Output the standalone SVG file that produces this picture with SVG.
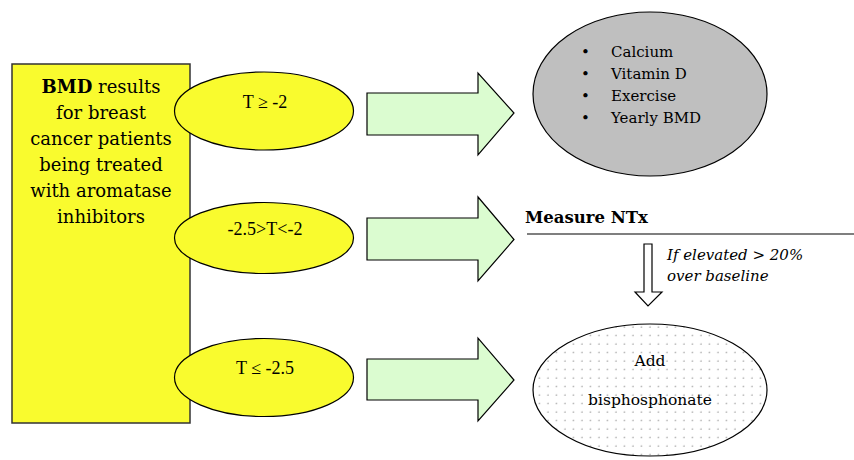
<svg xmlns="http://www.w3.org/2000/svg" width="854" height="460" viewBox="0 0 854 460">
<style>
.yl{fill:#f9fb2e;stroke:#000;stroke-width:1.2}
.arr{fill:#dbfcd0;stroke:#000;stroke-width:1.2}
.cam{font-family:"DejaVu Serif","Liberation Serif",serif;fill:#000}
.tms{font-family:"Liberation Serif","Times New Roman",serif;font-size:18px;fill:#000;text-anchor:middle}
</style>
<defs>
<pattern id="dots" x="0" y="0" width="8.5" height="8.5" patternUnits="userSpaceOnUse">
<circle cx="4" cy="4" r="0.8" fill="#a0a0a0"/>
</pattern>
</defs>
<rect width="854" height="460" fill="#fff"/>
<g id="bmd-box">
<rect x="12" y="64" width="178" height="359" fill="#f9fb2e" stroke="#333" stroke-width="1.5"/>
<text class="cam" font-size="18" text-anchor="middle"><tspan x="101" y="93"><tspan font-weight="bold">BMD</tspan> results</tspan><tspan x="101" y="119">for breast</tspan><tspan x="101" y="145">cancer patients</tspan><tspan x="101" y="171">being treated</tspan><tspan x="101" y="197">with aromatase</tspan><tspan x="101" y="223">inhibitors</tspan></text>
</g>
<g id="t1">
<ellipse class="yl" cx="264" cy="111" rx="89.5" ry="39"/>
<text class="tms" x="265" y="108">T ≥ -2</text>
</g>
<g id="t2">
<ellipse class="yl" cx="264" cy="238" rx="89.5" ry="35.5"/>
<text class="tms" x="265" y="235">-2.5&gt;T&lt;-2</text>
</g>
<g id="t3">
<ellipse class="yl" cx="264" cy="377.5" rx="89.5" ry="39"/>
<text class="tms" x="265" y="374">T ≤ -2.5</text>
</g>
<g id="connectors">
<path class="arr" d="M367,93 H478 V73 L514,113 L478,155 V135 H367 Z"/>
<path class="arr" d="M367,218 H478 V197 L514,239.5 L478,281 V260 H367 Z"/>
<path class="arr" d="M367,359 H478 V338 L514,380 L478,421 V400 H367 Z"/>
<path d="M644,244 H652 V292 H662 L648,306 L635,292 H644 Z" fill="#fff" stroke="#000" stroke-width="1.2"/>
</g>
<g id="lifestyle">
<ellipse cx="650" cy="94" rx="117" ry="82" fill="#bfbfbf" stroke="#000" stroke-width="1.2"/>
<g class="cam" font-size="15">
<text x="581" y="57">•</text><text x="611" y="57">Calcium</text>
<text x="581" y="79">•</text><text x="611" y="79">Vitamin D</text>
<text x="581" y="101">•</text><text x="611" y="101">Exercise</text>
<text x="581" y="123">•</text><text x="611" y="123">Yearly BMD</text>
</g>
</g>
<g id="measure-ntx">
<text class="cam" x="525" y="223" font-size="16.5" font-weight="bold">Measure NTx</text>
<line x1="527" y1="234" x2="854" y2="234" stroke="#000" stroke-width="1.2"/>
<text class="cam" font-size="15" font-style="italic"><tspan x="667" y="260">If elevated &gt; 20%</tspan><tspan x="667" y="281">over baseline</tspan></text>
</g>
<g id="bisphosphonate">
<ellipse cx="650" cy="390" rx="117" ry="66" fill="#fff" stroke="none"/>
<ellipse cx="650" cy="390" rx="117" ry="66" fill="url(#dots)" stroke="#000" stroke-width="1.2"/>
<text class="cam" font-size="15.5" text-anchor="middle"><tspan x="650" y="366">Add</tspan><tspan x="650" y="405">bisphosphonate</tspan></text>
</g>
</svg>
